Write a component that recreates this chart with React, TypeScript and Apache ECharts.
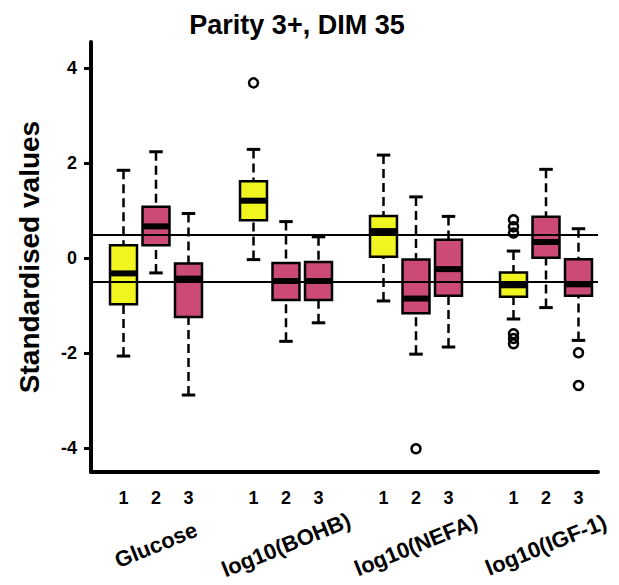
import React, { useEffect, useRef } from "react";
import * as echarts from "echarts";

const CATEGORIES = ["Glucose", "log10(BOHB)", "log10(NEFA)", "log10(IGF-1)"];
const CLUSTERS = ["1", "2", "3"];
const POSITIONS = [1, 2, 3, 5, 6, 7, 9, 10, 11, 13, 14, 15];
const GROUP_CENTERS = [2, 6, 10, 14];
const Y_TICKS = [-4, -2, 0, 2, 4];
const REF_LINES = [0.5, -0.5];

// per box (Glucose 1..3, BOHB 1..3, NEFA 1..3, IGF-1 1..3)
const LOWER = [-2.06, -0.31, -2.88, -0.03, -1.75, -1.36, -0.9, -2.02, -1.87, -1.28, -1.04, -1.73];
const Q1 = [-0.97, 0.27, -1.24, 0.8, -0.88, -0.88, 0.03, -1.16, -0.79, -0.81, 0.01, -0.79];
const MEDIAN = [-0.32, 0.67, -0.43, 1.21, -0.48, -0.48, 0.57, -0.85, -0.23, -0.57, 0.34, -0.55];
const Q3 = [0.27, 1.08, -0.11, 1.62, -0.1, -0.08, 0.89, -0.03, 0.39, -0.3, 0.87, -0.02];
const UPPER = [1.85, 2.24, 0.94, 2.29, 0.77, 0.45, 2.17, 1.29, 0.88, 0.15, 1.87, 0.62];
const OUTLIERS: number[][] = [
  [], [], [],
  [3.69], [], [],
  [], [-4.01], [],
  [0.81, 0.66, 0.53, -1.59, -1.69, -1.8], [], [-1.99, -2.68],
];

const COLORS = ["#f0f51f", "#cc4a78", "#cc4a78"];
const FONT = "Liberation Sans, Arial, sans-serif";
const BOX_WIDTH = 0.83;
const X_MIN = 0;
const X_MAX = 15.6;
const LABEL_ANGLE = 22;

export default function App() {
  const ref = useRef<HTMLDivElement>(null);
  useEffect(() => {
    if (!ref.current) return;
    const chart = echarts.init(ref.current, null, { renderer: "svg" });

    const boxData = POSITIONS.map((p, i) => [p, LOWER[i], Q1[i], MEDIAN[i], Q3[i], UPPER[i], i % 3]);
    const outData: number[][] = [];
    OUTLIERS.forEach((arr, i) => arr.forEach((v) => outData.push([POSITIONS[i], v])));

    const option: any = {
      animation: false,
      backgroundColor: "#fff",
      grid: { left: 91, right: 21, top: 42, bottom: 113, containLabel: false, outerBoundsMode: "none" },
      xAxis: {
        type: "value",
        min: X_MIN,
        max: X_MAX,
        position: "bottom",
        axisLine: { show: true, onZero: false, lineStyle: { color: "#000", width: 4 } },
        axisTick: { show: false },
        splitLine: { show: false },
        axisLabel: {
          customValues: POSITIONS,
          formatter: (v: number) => {
            const i = POSITIONS.indexOf(v);
            return i >= 0 ? CLUSTERS[i % 3] : "";
          },
          fontSize: 18,
          fontWeight: "bold",
          fontFamily: FONT,
          color: "#000",
          margin: 17,
        },
      },
      yAxis: {
        type: "value",
        min: -4.5,
        max: 4.55,
        axisLine: { show: true, onZero: false, lineStyle: { color: "#000", width: 4 } },
        axisTick: { show: true, length: 7, customValues: Y_TICKS, lineStyle: { color: "#000", width: 3 } },
        splitLine: { show: false },
        axisLabel: {
          customValues: Y_TICKS,
          fontSize: 18,
          fontWeight: "bold",
          fontFamily: FONT,
          color: "#000",
          margin: 14,
        },
      },
      graphic: [
        {
          type: "text",
          x: 297,
          y: 25,
          style: {
            text: "Parity 3+, DIM 35",
            fontSize: 27,
            fontWeight: "bold",
            fontFamily: FONT,
            fill: "#000",
            align: "center",
            verticalAlign: "middle",
          },
        },
        {
          type: "text",
          x: 29,
          y: 257,
          rotation: Math.PI / 2,
          style: {
            text: "Standardised values",
            fontSize: 28,
            fontWeight: "bold",
            fontFamily: FONT,
            fill: "#000",
            align: "center",
            verticalAlign: "middle",
          },
        },
      ],
      series: [
        {
          type: "custom",
          z: 2,
          data: boxData,
          renderItem: (params: any, api: any) => {
            const x = api.value(0);
            const pLow = api.coord([x, api.value(1)]);
            const pQ1 = api.coord([x, api.value(2)]);
            const pMed = api.coord([x, api.value(3)]);
            const pQ3 = api.coord([x, api.value(4)]);
            const pHigh = api.coord([x, api.value(5)]);
            const w = api.size([BOX_WIDTH, 0])[0];
            const cx = pMed[0];
            const cap = w / 4;
            const color = COLORS[api.value(6)];
            const dash = { stroke: "#000", lineWidth: 2.5, lineDash: [9, 5] };
            const solid = { stroke: "#000", lineWidth: 3 };
            return {
              type: "group",
              children: [
                { type: "line", shape: { x1: cx, y1: pHigh[1], x2: cx, y2: pQ3[1] }, style: dash },
                { type: "line", shape: { x1: cx, y1: pLow[1], x2: cx, y2: pQ1[1] }, style: dash },
                { type: "line", shape: { x1: cx - cap, y1: pHigh[1], x2: cx + cap, y2: pHigh[1] }, style: solid },
                { type: "line", shape: { x1: cx - cap, y1: pLow[1], x2: cx + cap, y2: pLow[1] }, style: solid },
                {
                  type: "rect",
                  shape: { x: cx - w / 2, y: pQ3[1], width: w, height: pQ1[1] - pQ3[1] },
                  style: { fill: color, stroke: "#000", lineWidth: 2.5 },
                },
                {
                  type: "line",
                  shape: { x1: cx - w / 2, y1: pMed[1], x2: cx + w / 2, y2: pMed[1] },
                  style: { stroke: "#000", lineWidth: 6 },
                },
              ],
            };
          },
        },
        {
          type: "scatter",
          z: 3,
          data: outData,
          symbol: "circle",
          symbolSize: 9,
          itemStyle: { color: "rgba(0,0,0,0)", borderColor: "#000", borderWidth: 2.5, opacity: 1 },
        },
        {
          type: "line",
          z: 5,
          data: [],
          markLine: {
            silent: true,
            symbol: ["none", "none"],
            label: { show: false },
            lineStyle: { color: "#000", width: 2, type: "solid" },
            data: REF_LINES.map((v) => ({ yAxis: v })),
          },
        },
      ],
    };
    chart.setOption(option);

    // Rotated group labels centred under each group
    const groupLabels = GROUP_CENTERS.map((g, i) => {
      const px = chart.convertToPixel({ xAxisIndex: 0 }, g) as number;
      return {
        type: "text",
        x: px,
        y: 545,
        rotation: (LABEL_ANGLE * Math.PI) / 180,
        style: {
          text: CATEGORIES[i],
          fontSize: 22,
          fontWeight: "bold",
          fontFamily: FONT,
          fill: "#000",
          align: "center",
          verticalAlign: "middle",
        },
      };
    });
    chart.setOption({ graphic: [...option.graphic, ...groupLabels] });

    return () => chart.dispose();
  }, []);
  return <div ref={ref} style={{ position: "absolute", left: 0, top: 0, width: 619, height: 585 }} />;
}
